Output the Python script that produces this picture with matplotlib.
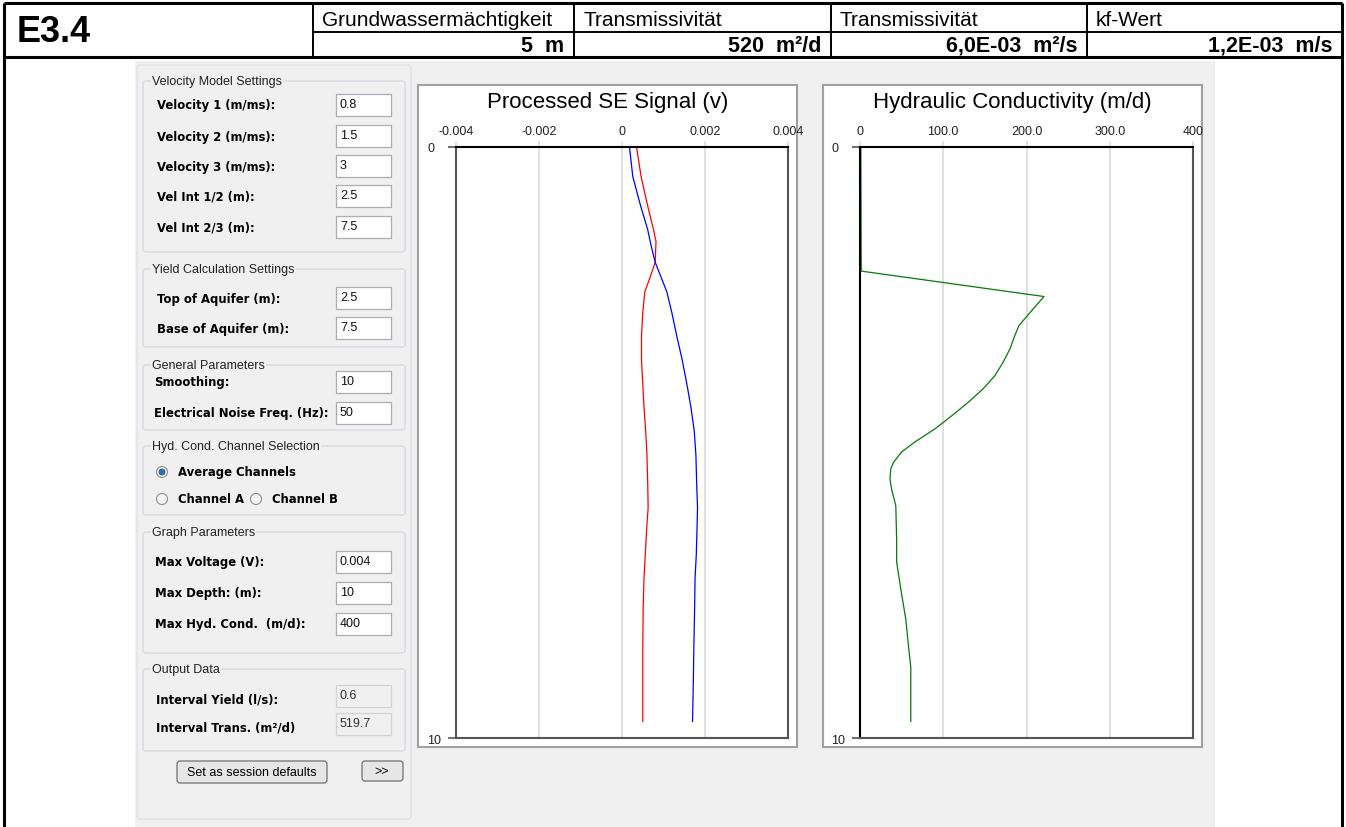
import matplotlib
matplotlib.use("Agg")
import matplotlib.pyplot as plt
from matplotlib.patches import Rectangle, FancyBboxPatch, Circle

plt.rcParams["font.family"] = ["Liberation Sans", "DejaVu Sans"]

# ---- Kopfzeile (Tabelle) ----
sheet_id = "E3.4"
header_labels = ["Grundwassermächtigkeit", "Transmissivität", "Transmissivität", "kf-Wert"]
header_values = ["5  m", "520  m²/d", "6,0E-03  m²/s", "1,2E-03  m/s"]

# ---- Einstellungen (linkes Panel) ----
velocity_fields = [("Velocity 1 (m/ms):", "0.8"), ("Velocity 2 (m/ms):", "1.5"),
                   ("Velocity 3 (m/ms):", "3"), ("Vel Int 1/2 (m):", "2.5"),
                   ("Vel Int 2/3 (m):", "7.5")]
yield_fields = [("Top of Aquifer (m):", "2.5"), ("Base of Aquifer (m):", "7.5")]
general_fields = [("Smoothing:", "10"), ("Electrical Noise Freq. (Hz):", "50")]
channel_options = ["Average Channels", "Channel A", "Channel B"]
graph_fields = [("Max Voltage (V):", "0.004"), ("Max Depth: (m):", "10"),
                ("Max Hyd. Cond.  (m/d):", "400")]
output_fields = [("Interval Yield (l/s):", "0.6"), ("Interval Trans. (m²/d)", "519.7")]

# ---- Daten: Processed SE Signal ----
depth_se = [0, 0.5, 1.0, 1.4, 1.6, 1.75, 1.95, 2.2, 2.45, 2.8, 3.2, 3.6, 4.0,
            4.4, 4.8, 5.2, 5.7, 6.1, 6.4, 6.9, 7.3, 7.8, 8.5, 9.0, 9.72]
signal_red = [0.00035, 0.00046, 0.00062, 0.00076, 0.00082, 0.00081, 0.0008,
              0.00068, 0.00055, 0.0005, 0.00047, 0.00047, 0.0005, 0.00053,
              0.00057, 0.0006, 0.00062, 0.00063, 0.0006, 0.00056, 0.00053,
              0.00051, 0.0005, 0.0005, 0.0005]
signal_blue = [0.00018, 0.00026, 0.00045, 0.00062, 0.00068, 0.00073, 0.0008,
               0.00094, 0.00108, 0.0012, 0.00132, 0.00145, 0.00156, 0.00166,
               0.00174, 0.00178, 0.0018, 0.00182, 0.00181, 0.00179, 0.00176,
               0.00175, 0.00173, 0.00172, 0.0017]
se_ticks = [-0.004, -0.002, 0, 0.002, 0.004]
se_ticklabels = ["-0.004", "-0.002", "0", "0.002", "0.004"]

# ---- Daten: Hydraulic Conductivity ----
depth_k = [0, 2.1, 2.53, 2.74, 3.02, 3.19, 3.42, 3.64, 3.87, 4.09, 4.32, 4.55,
           4.77, 4.99, 5.16, 5.34, 5.45, 5.62, 5.79, 6.07, 6.63, 7.02, 7.48,
           7.99, 8.55, 8.8, 9.72]
hyd_k = [1, 1.5, 221, 208, 191, 186, 180, 172, 162, 148, 130, 110, 90, 66, 50,
         40, 37, 36, 38, 43, 44, 44, 49, 55, 59, 61, 61]
k_ticks = [0, 100, 200, 300, 400]
k_ticklabels = ["0", "100.0", "200.0", "300.0", "400"]

W, H = 1346, 828
GRAY = "#f0f0f0"

fig = plt.figure(figsize=(W / 100, H / 100), dpi=100)
bg = fig.add_axes([0, 0, 1, 1])
bg.set_xlim(0, W)
bg.set_ylim(H, 0)
bg.axis("off")


def box(x0, y0, x1, y1, fc, ec="none", lw=1.0, r=0, z=1):
    if r:
        p = FancyBboxPatch((x0, y0), x1 - x0, y1 - y0,
                           boxstyle=f"round,pad=0,rounding_size={r}",
                           fc=fc, ec=ec, lw=lw, zorder=z)
    else:
        p = Rectangle((x0, y0), x1 - x0, y1 - y0, fc=fc, ec=ec, lw=lw, zorder=z)
    bg.add_patch(p)


def line(xs, ys, lw=2.2, color="black", z=5):
    bg.plot(xs, ys, color=color, lw=lw, solid_capstyle="butt", zorder=z, clip_on=False)


# Hintergrund GUI
box(135, 62, 1215, H, GRAY, z=0)

# Rahmen + Kopfzeile
line([4, 1342], [4, 4])
line([4, 1342], [58, 58])
line([4, 4], [4, H])
line([1342, 1342], [4, H])
col_x = [313, 574, 831, 1087, 1342]
for x in col_x[:-1]:
    line([x, x], [4, 58], lw=1.4)
line([313, 1342], [33, 33], lw=1.4)
bg.text(17, 33, sheet_id, fontsize=26, fontweight="bold", va="center", ha="left")
for i, (lab, val) in enumerate(zip(header_labels, header_values)):
    bg.text(col_x[i] + 9, 20, lab, fontsize=15, va="center", ha="left")
    bg.text(col_x[i + 1] - 10, 46, val, fontsize=15.5, fontweight="bold",
            va="center", ha="right")

# ---- linkes Panel ----
box(137, 66, 411, 820, GRAY, ec="#dfe3e8", lw=1, r=3)

LBL = dict(fontsize=8.4, fontweight="bold", va="center", ha="left",
           family="DejaVu Sans", zorder=6)


def group(y0, y1, title):
    box(143, y0, 405, y1, "none", ec="#d5dbe1", lw=1, r=3, z=2)
    bg.text(152, y0, title, fontsize=9, va="center", ha="left", color="#222",
            zorder=6, bbox=dict(fc=GRAY, ec="none", pad=0.5))


def textbox(y, val, x0=336, x1=391, readonly=False):
    fc = "#f0f0f0" if readonly else "white"
    ec = "#d3d3d3" if readonly else "#abadb3"
    box(x0, y - 11, x1, y + 11, fc, ec=ec, lw=0.9, z=3)
    bg.text(x0 + 4, y - 1, val, fontsize=9, va="center", ha="left",
            color="#333" if readonly else "#111", zorder=6)


group(82, 253, "Velocity Model Settings")
for (lab, val), y in zip(velocity_fields, [106, 137, 167, 197, 228]):
    bg.text(157, y, lab, **LBL)
    textbox(y, val)

group(270, 348, "Yield Calculation Settings")
for (lab, val), y in zip(yield_fields, [300, 330]):
    bg.text(157, y, lab, **LBL)
    textbox(y - 1, val)

group(366, 431, "General Parameters")
for (lab, val), y in zip(general_fields, [383, 414]):
    bg.text(154, y, lab, **LBL)
    textbox(y, val)

group(447, 516, "Hyd. Cond. Channel Selection")
radio_pos = [(162, 473), (162, 500), (256, 500)]
for i, (opt, (rx, ry)) in enumerate(zip(channel_options, radio_pos)):
    bg.add_patch(Circle((rx, ry), 5.5, fc="#f4f4f4", ec="#8e8f8f", lw=0.8, zorder=4))
    if i == 0:
        bg.add_patch(Circle((rx, ry), 3, fc="#2d6fae", ec="#1c4f80", lw=0.5, zorder=5))
    bg.text(rx + 16, ry, opt, **LBL)

group(533, 654, "Graph Parameters")
for (lab, val), y in zip(graph_fields, [563, 594, 625]):
    bg.text(155, y, lab, **LBL)
    textbox(y, val)

group(670, 752, "Output Data")
for (lab, val), y in zip(output_fields, [700, 728]):
    bg.text(156, y, lab, **LBL)
    textbox(y - 3, val, readonly=True)

box(177, 762, 327, 784, "#e6e6e6", ec="#707070", lw=0.9, r=3, z=3)
bg.text(252, 773, "Set as session defaults", fontsize=9, ha="center",
        va="center", zorder=6)
box(362, 762, 403, 782, "#e6e6e6", ec="#707070", lw=0.9, r=3, z=3)
bg.text(382, 772, ">>", fontsize=9, ha="center", va="center", zorder=6)

# Diagramm-Panels
for x0, x1 in [(418, 797), (823, 1202)]:
    box(x0, 86, x1, 748, "white", ec="#a0a0a0", lw=1.5, z=1)


def setup_axes(left, right, xlim, ticks, ticklabels, title, title_x):
    ax = fig.add_axes([left / W, (H - 739) / H, (right - left) / W, 591 / H])
    ax.set_xlim(*xlim)
    ax.set_ylim(10, 0)
    ax.xaxis.tick_top()
    ax.set_xticks(ticks)
    ax.set_xticklabels(ticklabels)
    ax.tick_params(axis="x", length=4.5, width=1.2, color="#dcdcdc", pad=3,
                   labelsize=9, labelcolor="#222")
    ax.set_yticks([0, 10])
    ax.set_yticklabels(["0", "10"], ha="left")
    ax.tick_params(axis="y", length=5.5, width=1.2, color="#555", pad=15,
                   labelsize=9, labelcolor="#222")
    ax.grid(axis="x", color="#dcdcdc", lw=1.3)
    ax.set_axisbelow(True)
    for s in ax.spines.values():
        s.set_color("#555")
        s.set_linewidth(1.5)
    ax.spines["top"].set_color("black")
    ax.set_title(title, x=title_x, y=1 + 40 / 591, pad=0, fontsize=16)
    return ax


ax1 = setup_axes(456, 788, (-0.004, 0.004), se_ticks, se_ticklabels,
                 "Processed SE Signal (v)", (608 - 456) / 332)
ax1.plot(signal_red, depth_se, color="#ff0000", lw=0.9)
ax1.plot(signal_blue, depth_se, color="#0000ff", lw=0.9)

ax2 = setup_axes(860, 1193, (0, 400), k_ticks, k_ticklabels,
                 "Hydraulic Conductivity (m/d)", (1012 - 860) / 333)
ax2.spines["left"].set_color("black")
ax2.plot(hyd_k, depth_k, color="#0a780a", lw=0.9)

fig.savefig("out.png", dpi=100)
plt.close(fig)
